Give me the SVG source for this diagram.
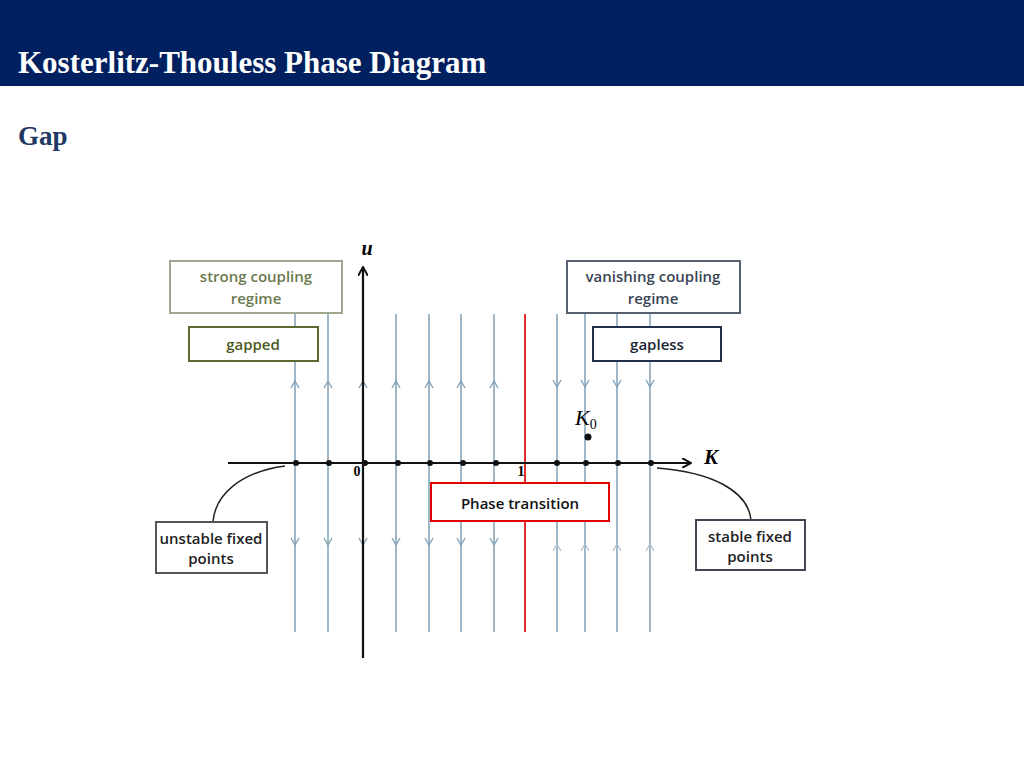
<svg xmlns="http://www.w3.org/2000/svg" width="1024" height="768" viewBox="0 0 1024 768">
<style>
.fl{stroke:#7f9fb5;stroke-width:1.5;fill:none}
.ar{stroke:#7f9fb5;stroke-width:1.3;fill:none}
.bx{fill:#fff;stroke-width:2}
.t{font-family:"Open Sans","Liberation Sans",sans-serif;font-size:15px;font-weight:600;text-anchor:middle}
.dot{fill:#111}
</style>
<defs><marker id="ah" markerWidth="10" markerHeight="10" refX="8" refY="5" orient="auto" markerUnits="userSpaceOnUse"><path d="M0,0 L9,5 L0,10" fill="none" stroke="#111" stroke-width="2"/></marker></defs>
<rect width="1024" height="768" fill="#fff"/>
<rect width="1024" height="86" fill="#002060"/>
<text x="18" y="73" font-family="Liberation Serif,serif" font-weight="bold" font-size="31" fill="#fff">Kosterlitz-Thouless Phase Diagram</text>
<text x="18" y="145" font-family="Liberation Serif,serif" font-weight="bold" font-size="27" fill="#1f3864">Gap</text>
<g id="connectors">
<g class="fl">
<line x1="295" y1="314" x2="295" y2="632"/><line x1="328" y1="314" x2="328" y2="632"/>
<line x1="396" y1="314" x2="396" y2="632"/><line x1="429" y1="314" x2="429" y2="632"/>
<line x1="461" y1="314" x2="461" y2="632"/><line x1="494" y1="314" x2="494" y2="632"/>
<line x1="557" y1="314" x2="557" y2="632"/><line x1="585" y1="314" x2="585" y2="632"/>
<line x1="617" y1="314" x2="617" y2="632"/><line x1="650" y1="314" x2="650" y2="632"/>
</g>
<line x1="525" y1="314" x2="525" y2="632" stroke="#e03030" stroke-width="2"/>
<g class="ar">
<path d="M291,388 L295,381 L299,388 M324,388 L328,381 L332,388 M359,388 L363,381 L367,388 M392,388 L396,381 L400,388 M425,388 L429,381 L433,388 M457,388 L461,381 L465,388 M490,388 L494,381 L498,388"/>
<path d="M291,538 L295,545 L299,538 M324,538 L328,545 L332,538 M359,538 L363,545 L367,538 M392,538 L396,545 L400,538 M425,538 L429,545 L433,538 M457,538 L461,545 L465,538 M490,538 L494,545 L498,538"/>
<path d="M553,380 L557,387 L561,380 M581,380 L585,387 L589,380 M613,380 L617,387 L621,380 M646,380 L650,387 L654,380"/>
<path d="M553,551 L557,544 L561,551 M581,551 L585,544 L589,551 M613,551 L617,544 L621,551 M646,551 L650,544 L654,551" stroke="#b0c0cc"/>
</g>
<line x1="363" y1="658" x2="363" y2="268" stroke="#111" stroke-width="2.2" marker-end="url(#ah)"/>
<line x1="228" y1="463" x2="690" y2="463" stroke="#111" stroke-width="2.2" marker-end="url(#ah)"/>
<path d="M285,466 C240,472 215,495 213,522" fill="none" stroke="#222" stroke-width="1.5"/>
<path d="M657,468 C710,472 748,490 751,520" fill="none" stroke="#222" stroke-width="1.5"/>
</g>
<g id="fixedpoints">
<circle class="dot" cx="296" cy="463" r="3"/><circle class="dot" cx="329" cy="463" r="3"/><circle class="dot" cx="365" cy="463" r="3"/>
<circle class="dot" cx="398" cy="463" r="3"/><circle class="dot" cx="430" cy="463" r="3"/><circle class="dot" cx="463" cy="463" r="3"/>
<circle class="dot" cx="496" cy="463" r="3"/><circle class="dot" cx="557" cy="463" r="3"/><circle class="dot" cx="586" cy="463" r="3"/>
<circle class="dot" cx="618" cy="463" r="3"/><circle class="dot" cx="651" cy="463" r="3"/>
<circle class="dot" cx="588" cy="437" r="3.5"/>
</g>
<g id="labels" font-family="Liberation Serif,serif">
<text x="367" y="255" font-size="20" font-weight="bold" font-style="italic" text-anchor="middle">u</text>
<text x="711" y="464" font-size="21" font-weight="bold" font-style="italic" text-anchor="middle">K</text>
<text x="357" y="476" font-size="14" font-weight="bold" text-anchor="middle">0</text>
<text x="521" y="476" font-size="14" font-weight="bold" text-anchor="middle">1</text>
<text x="575" y="425" font-size="22" font-style="italic">K<tspan font-size="14" font-style="normal" dy="4">0</tspan></text>
</g>
<g id="strong"><rect class="bx" x="170" y="261" width="172" height="52" stroke="#a0a890"/><text class="t" x="256" y="282" fill="#6b7a50">strong coupling</text><text class="t" x="256" y="304" fill="#6b7a50">regime</text></g>
<g id="vanishing"><rect class="bx" x="567" y="261" width="173" height="52" stroke="#556070"/><text class="t" x="653" y="282" fill="#3a4555">vanishing coupling</text><text class="t" x="653" y="304" fill="#3a4555">regime</text></g>
<g id="gapped"><rect class="bx" x="189" y="327" width="129" height="34" stroke="#5a6a30"/><text class="t" x="253" y="350" fill="#4a5a20">gapped</text></g>
<g id="gapless"><rect class="bx" x="593" y="327" width="128" height="34" stroke="#203048"/><text class="t" x="657" y="350" fill="#1a2535">gapless</text></g>
<g id="unstable"><rect class="bx" x="156" y="522" width="111" height="51" stroke="#555"/><text class="t" x="211" y="544" font-size="13.5" fill="#222">unstable fixed</text><text class="t" x="211" y="564" font-size="13.5" fill="#222">points</text></g>
<g id="stable"><rect class="bx" x="696" y="520" width="109" height="50" stroke="#445"/><text class="t" x="750" y="542" font-size="13.5" fill="#222">stable fixed</text><text class="t" x="750" y="562" font-size="13.5" fill="#222">points</text></g>
<g id="phase"><rect class="bx" x="431" y="483" width="178" height="38" stroke="#e00000"/><text class="t" x="520" y="509" font-size="18" fill="#111">Phase transition</text></g>
</svg>
